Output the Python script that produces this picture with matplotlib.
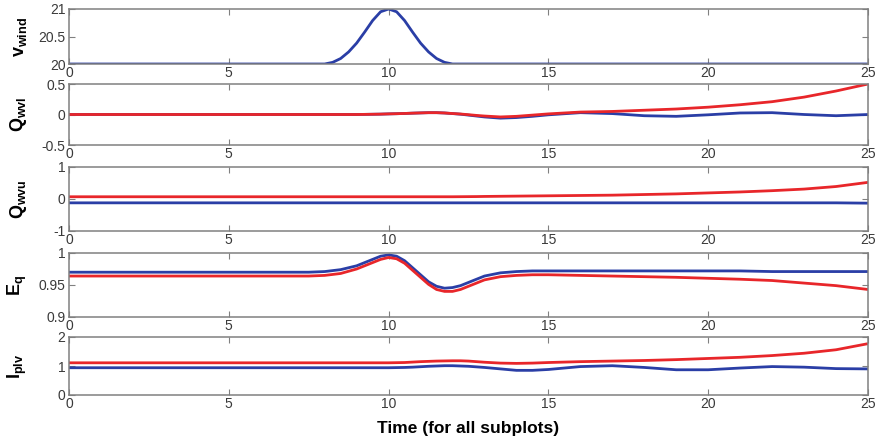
import numpy as np
import matplotlib
matplotlib.use("Agg")
import matplotlib.pyplot as plt
from matplotlib.ticker import FuncFormatter

plt.rcParams["font.family"] = ["Liberation Sans", "DejaVu Sans"]
plt.rcParams["mathtext.fontset"] = "custom"
plt.rcParams["mathtext.rm"] = "Liberation Sans"
plt.rcParams["mathtext.bf"] = "Liberation Sans:bold"

# ── Data ────────────────────────────────────────────────────────
t_wind = [0, 7.5, 8.0, 8.25, 8.5, 8.75, 9.0, 9.25, 9.5, 9.75, 10.0,
          10.25, 10.5, 10.75, 11.0, 11.25, 11.5, 11.75, 12.0, 12.5, 25]
v_wind = [20, 20, 20.0, 20.03, 20.1, 20.22, 20.38, 20.58, 20.79, 20.95, 21.0,
          20.95, 20.79, 20.58, 20.38, 20.22, 20.1, 20.03, 20.0, 20, 20]

t = [0, 7.5, 8, 8.5, 9, 9.25, 9.5, 9.75, 10, 10.25, 10.5, 10.75, 11, 11.25,
     11.5, 11.75, 12, 12.25, 12.5, 12.75, 13, 13.5, 14, 14.5, 15, 16, 17, 18,
     19, 20, 21, 22, 23, 24, 25]

qwvl_blue = [0, 0, 0, 0, 0, 0.002, 0.004, 0.006, 0.01, 0.013, 0.017, 0.022,
             0.026, 0.03, 0.03, 0.025, 0.015, 0.005, -0.01, -0.025, -0.04,
             -0.06, -0.05, -0.03, -0.005, 0.03, 0.015, -0.02, -0.03, -0.005,
             0.025, 0.03, 0.0, -0.02, 0.0]
qwvl_red = [0, 0, 0, 0, 0, 0.002, 0.004, 0.006, 0.01, 0.013, 0.017, 0.022,
            0.026, 0.03, 0.03, 0.025, 0.016, 0.008, -0.003, -0.015, -0.025,
            -0.04, -0.03, -0.01, 0.01, 0.04, 0.05, 0.07, 0.09, 0.12, 0.16,
            0.21, 0.285, 0.385, 0.5]

qwvu_blue = [-0.12] * 34 + [-0.13]
qwvu_red = [0.07, 0.07, 0.07, 0.07, 0.07, 0.07, 0.07, 0.07, 0.07, 0.07, 0.07,
            0.07, 0.07, 0.07, 0.07, 0.07, 0.07, 0.072, 0.074, 0.076, 0.08,
            0.085, 0.09, 0.095, 0.10, 0.11, 0.12, 0.14, 0.16, 0.19, 0.22,
            0.26, 0.31, 0.39, 0.52]

eq_blue = [0.970, 0.970, 0.971, 0.974, 0.980, 0.985, 0.990, 0.995, 0.997,
           0.995, 0.988, 0.977, 0.966, 0.955, 0.948, 0.945, 0.946, 0.949,
           0.954, 0.959, 0.964, 0.969, 0.971, 0.972, 0.972, 0.972, 0.972,
           0.972, 0.972, 0.972, 0.972, 0.971, 0.971, 0.971, 0.971]
eq_red = [0.964, 0.964, 0.965, 0.968, 0.975, 0.980, 0.985, 0.990, 0.993,
          0.991, 0.984, 0.973, 0.962, 0.951, 0.943, 0.940, 0.940, 0.943,
          0.948, 0.953, 0.958, 0.963, 0.965, 0.966, 0.966, 0.965, 0.964,
          0.963, 0.962, 0.9605, 0.959, 0.957, 0.953, 0.949, 0.943]

iplv_blue = [0.94, 0.94, 0.94, 0.94, 0.94, 0.94, 0.94, 0.94, 0.94, 0.945,
             0.95, 0.96, 0.975, 0.99, 1.0, 1.01, 1.01, 1.0, 0.99, 0.97, 0.95,
             0.9, 0.85, 0.85, 0.88, 0.98, 1.01, 0.95, 0.87, 0.87, 0.93, 0.98,
             0.96, 0.91, 0.9]
iplv_red = [1.11, 1.11, 1.11, 1.11, 1.11, 1.11, 1.11, 1.11, 1.11, 1.115,
            1.12, 1.135, 1.15, 1.16, 1.17, 1.175, 1.18, 1.18, 1.17, 1.15,
            1.13, 1.10, 1.09, 1.10, 1.12, 1.15, 1.17, 1.19, 1.22, 1.26, 1.30,
            1.36, 1.44, 1.56, 1.77]

labels = [r"$\mathbf{v}_{\mathbf{wind}}$", r"$\mathbf{Q}_{\mathbf{wvl}}$",
          r"$\mathbf{Q}_{\mathbf{wvu}}$", r"$\mathbf{E}_{\mathbf{q}}$",
          r"$\mathbf{I}_{\mathbf{plv}}$"]
ylims = [(20, 21), (-0.5, 0.5), (-1, 1), (0.9, 1.0), (0, 2)]
yticks = [[20, 20.5, 21], [-0.5, 0, 0.5], [-1, 0, 1], [0.9, 0.95, 1.0], [0, 1, 2]]
xticks = [0, 5, 10, 15, 20, 25]

BLUE = "#2a3ea6"
RED = "#e8262a"
GRAY = "#808080"

# ── Layout (pixel boxes: top, bottom) ───────────────────────────
W, H = 880, 441
boxes = [(9, 64), (84, 145), (167, 231), (253, 317), (337, 395)]
left, right = 69, 868

fig = plt.figure(figsize=(W / 100, H / 100), dpi=100)

series = [
    [(t_wind, v_wind, BLUE)],
    [(t, qwvl_blue, BLUE), (t, qwvl_red, RED)],
    [(t, qwvu_blue, BLUE), (t, qwvu_red, RED)],
    [(t, eq_blue, BLUE), (t, eq_red, RED)],
    [(t, iplv_blue, BLUE), (t, iplv_red, RED)],
]

for i, (top, bot) in enumerate(boxes):
    ax = fig.add_axes([left / W, 1 - bot / H, (right - left) / W, (bot - top) / H])
    for x, y, c in series[i]:
        ax.plot(x, y, color=c, lw=2.0, solid_capstyle="butt")
    ax.set_xlim(0, 25)
    ax.set_ylim(*ylims[i])
    ax.set_xticks(xticks)
    ax.set_yticks(yticks[i])
    ax.yaxis.set_major_formatter(FuncFormatter(lambda v, p: f"{v:g}"))
    ax.tick_params(direction="in", length=4, width=0.8, color=GRAY,
                   labelcolor="#3a3a3a", labelsize=10, top=True, right=True)
    ax.tick_params(axis="x", pad=1.5)
    ax.tick_params(axis="y", pad=2.5)
    for sp in ax.spines.values():
        sp.set_color(GRAY)
        sp.set_linewidth(1.1)
    ax.set_ylabel(labels[i], fontsize=13)
    ax.yaxis.set_label_coords(-0.05, 0.5)

fig.text((left + right) / 2 / W, 1 - 428 / H, "Time (for all subplots)",
         ha="center", va="center", fontsize=12.5, fontweight="bold")

fig.savefig("out.png", dpi=100)
